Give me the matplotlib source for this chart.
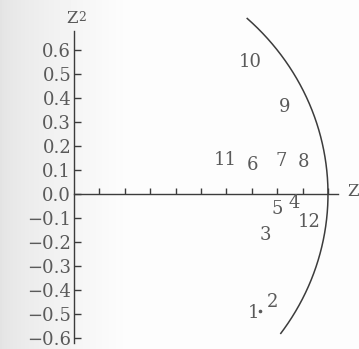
import numpy as np
import matplotlib.pyplot as plt

plt.rcParams['font.family'] = 'DejaVu Serif'

# numbered points (label, z1, z2)
labels = ['1', '2', '3', '4', '5', '6', '7', '8', '9', '10', '11', '12']
z1 = [0.705, 0.783, 0.752, 0.866, 0.799, 0.701, 0.815, 0.902, 0.831, 0.693, 0.594, 0.925]
z2 = [-0.496, -0.45, -0.171, -0.0375, -0.0625, 0.121, 0.1375, 0.133, 0.3625, 0.55, 0.142, -0.117]

yticks = [-0.6, -0.5, -0.4, -0.3, -0.2, -0.1, 0.0, 0.1, 0.2, 0.3, 0.4, 0.5, 0.6]
xticks = [0.1, 0.2, 0.3, 0.4, 0.5, 0.6, 0.7, 0.8, 0.9, 1.0]

# unit circle arc
theta = np.radians(np.linspace(47, -35.5, 200))

ink = '#3c3c3c'
txt = '#5a5a5a'

fig = plt.figure(figsize=(3.59, 3.49), dpi=100)

# paper background, a bit darker toward the binding
bg = fig.add_axes([0, 0, 1, 1])
grad = np.linspace(0, 1, 359)
shade = 0.89 + 0.10 * np.clip(grad / 0.35, 0, 1) ** 0.7
bg.imshow(np.tile(shade, (10, 1)), aspect='auto', cmap='gray', vmin=0, vmax=1)
bg.axis('off')

ax = fig.add_axes([0, 0, 1, 1])
ax.patch.set_alpha(0)
ax.set_xlim(-74 / 254, 285 / 254)
ax.set_ylim(-155 / 240, 194 / 240)

for s in ['top', 'right']:
    ax.spines[s].set_visible(False)
ax.spines['left'].set_position(('data', 0))
ax.spines['bottom'].set_position(('data', 0))
ax.spines['left'].set_bounds(-0.62, 0.68)
ax.spines['bottom'].set_bounds(0, 1.04)
for s in ['left', 'bottom']:
    ax.spines[s].set_color(ink)
    ax.spines[s].set_linewidth(1.0)

ax.set_yticks(yticks)
ax.set_yticklabels([f'{v:.1f}'.replace('-', '\u2212') for v in yticks])
ax.tick_params(axis='y', direction='in', length=5, width=1.0, pad=2,
               labelsize=13, color=ink, labelcolor=txt)
ax.set_xticks(xticks)
ax.tick_params(axis='x', direction='in', length=4, width=1.0,
               labelbottom=False, color=ink)

ax.plot(np.cos(theta), np.sin(theta), color=ink, lw=1.1)

for lab, x, y in zip(labels, z1, z2):
    ax.text(x, y, lab, ha='center', va='center', fontsize=13, color=txt)
ax.plot([0.733], [-0.4875], 'o', ms=1.6, color=txt)

# axis names
ax.text(-0.008, 0.733, 'Z', ha='center', va='center', fontsize=12, color=txt)
ax.text(0.032, 0.735, '2', ha='center', va='center', fontsize=9, color=txt)
ax.text(1.098, 0.012, 'Z', ha='center', va='center', fontsize=12, color=txt)

fig.savefig('out.png', dpi=100)
